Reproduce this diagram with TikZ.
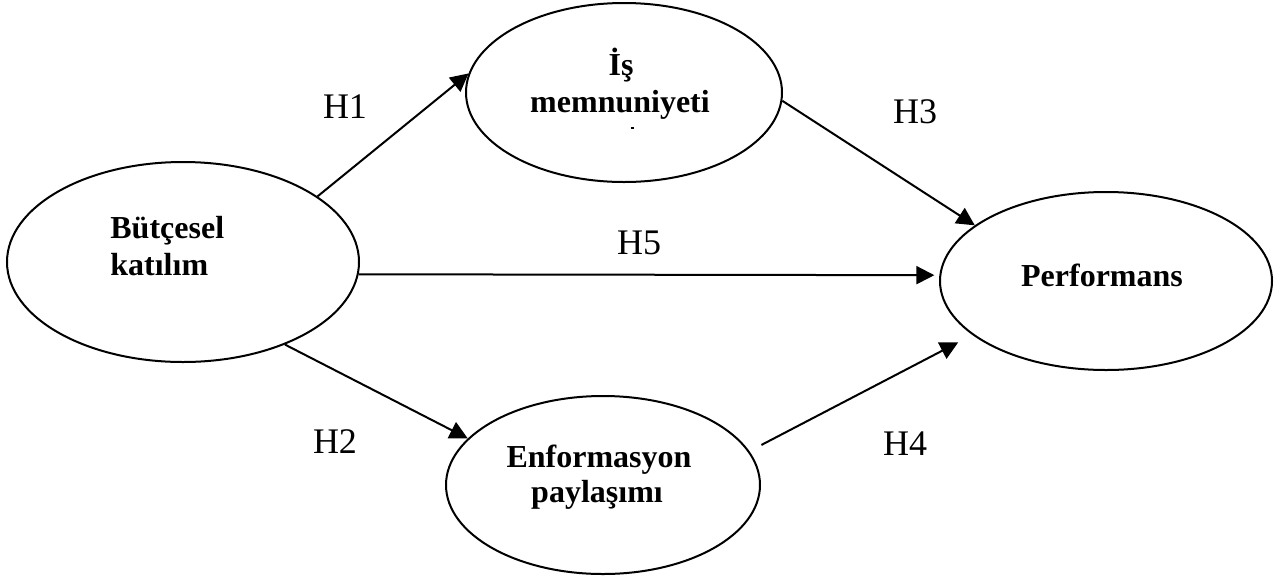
\documentclass[tikz,border=0pt]{standalone}
\usepackage{fontspec}
\setmainfont{Liberation Serif}
\usetikzlibrary{shapes.geometric,arrows.meta}
\begin{document}
\begin{tikzpicture}[x=0.5pt,y=-0.5pt,
  construct/.style={draw, ellipse, line width=1pt, inner sep=0pt},
  cname/.style={font=\fontsize{16}{18}\selectfont\bfseries, inner sep=0pt, anchor=base},
  hyp/.style={font=\fontsize{18}{20}\selectfont, inner sep=0pt, anchor=base},
  link/.style={line width=1pt, -{Triangle[length=9pt,width=9pt]}}]
\useasboundingbox (0,0) rectangle (1285,579);

% constructs
\node[construct, minimum width=176pt, minimum height=100pt] (bud) at (183,262) {};
\node[construct, minimum width=158pt, minimum height=89.5pt] (sat) at (624,92.5) {};
\node[construct, minimum width=157pt, minimum height=89pt] (inf) at (603,485) {};
\node[construct, minimum width=166pt, minimum height=89pt] (perf) at (1106,281) {};

% construct names
\node[cname, anchor=base west] (bud1) at (110,238) {Bütçesel};
\node[cname, anchor=base west] (bud2) at (110,275) {katılım};
\node[cname] (sat1) at (621,75) {İş};
\node[cname] (sat2) at (620,112) {memnuniyeti};
\draw[line width=0.8pt] (630.5,128) -- (634,128);
\node[cname] (inf1) at (599,467) {Enformasyon};
\node[cname] (inf2) at (597,502) {paylaşımı};
\node[cname] (perf1) at (1102,286) {Performans};

% hypotheses
\draw[link] (bud.26.2) -- (sat.173.6);
\draw[link] (bud.-39) -- (inf.161.9);
\draw[link] (sat.-3.5) -- (perf.157.9);
\draw[link, shorten <=6.75pt, shorten >=8pt] (inf.13.7) -- (perf.202.9);
\draw[link, shorten >=2.5pt] (bud.-4.93) -- (perf.178.6);

\node[hyp] (h1) at (345,118) {H1};
\node[hyp] (h2) at (335,453) {H2};
\node[hyp] (h3) at (915,123) {H3};
\node[hyp] (h4) at (905,455) {H4};
\node[hyp] (h5) at (639,254) {H5};
\end{tikzpicture}
\end{document}
